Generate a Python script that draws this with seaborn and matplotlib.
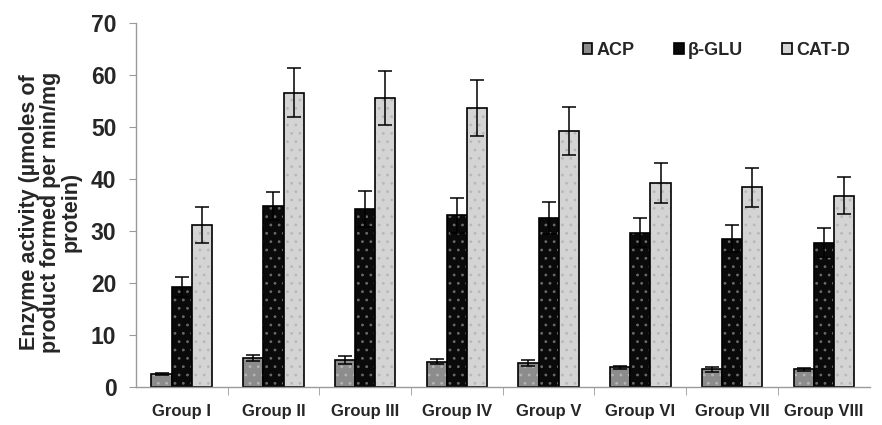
import numpy as np
import pandas as pd
import matplotlib
matplotlib.use("Agg")
import matplotlib.pyplot as plt
import matplotlib.colors as mcolors
import seaborn as sns

groups = ["Group I", "Group II", "Group III", "Group IV",
          "Group V", "Group VI", "Group VII", "Group VIII"]
enzymes = ["ACP", "\u03b2-GLU", "CAT-D"]

acp = [2.6, 5.6, 5.2, 4.9, 4.6, 3.8, 3.4, 3.4]
acp_err = [0.2, 0.5, 0.7, 0.5, 0.6, 0.3, 0.5, 0.3]
glu = [19.2, 34.8, 34.2, 33.0, 32.5, 29.7, 28.5, 27.8]
glu_err = [1.9, 2.7, 3.5, 3.4, 3.1, 2.8, 2.6, 2.7]
catd = [31.2, 56.6, 55.5, 53.6, 49.2, 39.2, 38.4, 36.8]
catd_err = [3.5, 4.7, 5.2, 5.4, 4.6, 3.8, 3.7, 3.5]

df = pd.DataFrame({
    "group": groups * 3,
    "enzyme": np.repeat(enzymes, len(groups)),
    "value": acp + glu + catd,
    "err": acp_err + glu_err + catd_err,
})

sns.set_style("white")
plt.rcParams["font.family"] = ["Liberation Sans", "DejaVu Sans"]
plt.rcParams["hatch.linewidth"] = 0.8

colors = ["#8c8c8c", "#0a0a0a", "#d4d4d4"]
dot_colors = ["#b4b4b4", "#6a6a6a", "#b8b8b8"]

fig = plt.figure(figsize=(8.82, 4.25), dpi=100)
ax = fig.add_axes([0.154, 0.089, 0.832, 0.857])

sns.barplot(data=df, x="group", y="value", hue="enzyme", order=groups,
            hue_order=enzymes, palette=colors, width=0.66, gap=0,
            edgecolor="black", linewidth=1.2, errorbar=None, ax=ax)

# dotted fill + error bars, one container per enzyme
for cont, enz, dc in zip(ax.containers, enzymes, dot_colors):
    for p in cont.patches:
        p.set_hatch("..")
        p._hatch_color = mcolors.to_rgba(dc)
    errs = df[df.enzyme == enz].set_index("group").loc[groups, "err"].values
    xs = [p.get_x() + p.get_width() / 2 for p in cont.patches]
    ys = [p.get_height() for p in cont.patches]
    ax.errorbar(xs, ys, yerr=errs, fmt="none", ecolor="black",
                elinewidth=1.1, capsize=5, capthick=1.1, zorder=5)

ax.set_ylim(0, 70)
ax.set_xlim(-0.5, len(groups) - 0.5)
ax.set_yticks(range(0, 71, 10))
ax.set_xlabel("")
ax.set_ylabel("Enzyme activity (\u00b5moles of\nproduct formed per min/mg\nprotein)",
              fontsize=15.5, fontweight="bold", linespacing=1.0)
ax.yaxis.set_label_coords(-0.074, 0.48)

for s in ["top", "right"]:
    ax.spines[s].set_visible(False)
for s in ["left", "bottom"]:
    ax.spines[s].set_color("#9a9a9a")
    ax.spines[s].set_linewidth(1.0)

ax.tick_params(axis="y", labelsize=16.5, length=5, color="#9a9a9a",
               direction="out", left=True, pad=9)
ax.tick_params(axis="x", labelsize=12, length=0, pad=12)
ax.set_xticks(np.arange(0.5, len(groups) - 0.5, 1), minor=True)
ax.tick_params(axis="x", which="minor", length=6, color="#9a9a9a",
               direction="out", bottom=True)
for lbl in ax.get_xticklabels() + ax.get_yticklabels():
    lbl.set_fontweight("bold")

leg = ax.legend(loc="center right", bbox_to_anchor=(0.995, 0.925), ncol=3,
                frameon=False, fontsize=13, handlelength=0.55,
                handleheight=0.55, handletextpad=0.2, columnspacing=2.2)
for t in leg.get_texts():
    t.set_fontweight("bold")

fig.savefig("out.png", dpi=100)
